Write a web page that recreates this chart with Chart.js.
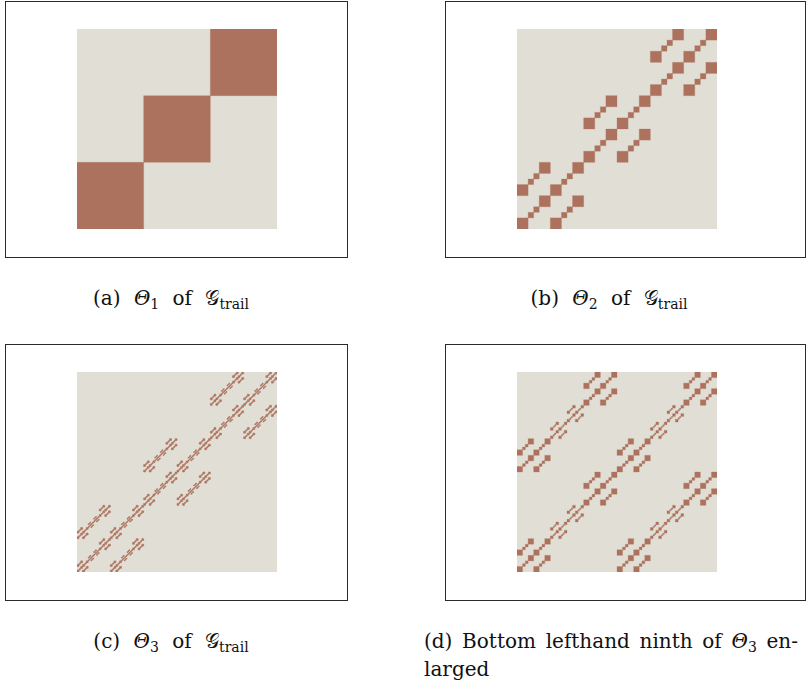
<!DOCTYPE html>
<html>
<head>
<meta charset="utf-8">
<script src="https://cdn.jsdelivr.net/npm/chart.js@4/dist/chart.umd.min.js"></script>
<style>
    body { margin: 0; width: 809px; height: 684px; background: #fff; position: relative; overflow: hidden; }
    .box { position: absolute; border: 1px solid #2b2b2b; }
    .box canvas { display: block; }
    .cap { position: absolute; font-family: "DejaVu Serif", serif; font-size: 20px; line-height: 28px; color: #111; white-space: nowrap; }
    .mid { width: 300px; text-align: center; word-spacing: 7px; }
    .cap sub { font-size: 0.7em; vertical-align: -0.3em; line-height: 0; word-spacing: 0; }
    .cap i { font-style: italic; }
</style>
</head>
<body>
<div class="box" style="left:5px;top:1px;"><canvas id="chartA" width="341" height="255"></canvas></div>
<div class="box" style="left:445px;top:1px;"><canvas id="chartB" width="359" height="255"></canvas></div>
<div class="box" style="left:5px;top:344px;"><canvas id="chartC" width="341" height="255"></canvas></div>
<div class="box" style="left:445px;top:344px;"><canvas id="chartD" width="359" height="255"></canvas></div>

<div class="cap mid" style="left:21px;top:284px;">(a) <i>Θ</i><sub>1</sub> of 𝒢<sub>trail</sub></div>
<div class="cap mid" style="left:459px;top:284px;">(b) <i>Θ</i><sub>2</sub> of 𝒢<sub>trail</sub></div>
<div class="cap mid" style="left:21px;top:627px;">(c) <i>Θ</i><sub>3</sub> of 𝒢<sub>trail</sub></div>
<div class="cap" style="left:424px;top:627px;width:374px;text-align:justify;text-align-last:justify;">(d) Bottom lefthand ninth of <i>Θ</i><sub>3</sub> en-</div>
<div class="cap" style="left:424px;top:655px;">larged</div>

<script>
// Θ_n: three blocks down the diagonal (x, y, side; unit square, origin bottom-left)
const diagonalBlocks = [[0, 0, 1/3], [1/3, 1/3, 1/3], [2/3, 2/3, 1/3]];
// every block is a 2x2 grid of half-size trail pieces
const gridOffsets = [[0, 0], [1/2, 0], [0, 1/2], [1/2, 1/2]];
// one trail piece: big, small, small, big square along its diagonal
const trailSquares = [[0, 0, 1/3], [1/3, 1/3, 1/6], [1/2, 1/2, 1/6], [2/3, 2/3, 1/3]];
// depth of each panel; (d) is the bottom lefthand block of Θ3 blown up
const panelLevels = [1, 2, 3, 3];
const panelIds = ['chartA', 'chartB', 'chartC', 'chartD'];

const fieldColor = '#e1dfd5';
const markColor = '#ad725e';

// block of given depth -> list of filled squares (centre + side)
function block(level, x, y, s, out) {
    if (level === 1) { out.push({ x: x + s / 2, y: y + s / 2, s: s }); return; }
    gridOffsets.forEach(([ox, oy]) => {
        const h = s / 2, px = x + ox * s, py = y + oy * s;
        trailSquares.forEach(([tx, ty, ts]) => block(level - 1, px + tx * h, py + ty * h, ts * h, out));
    });
}

function squaresFor(i) {
    const out = [];
    if (i === 3) { block(panelLevels[i], 0, 0, 1, out); return out; }
    diagonalBlocks.forEach(([x, y, s]) => block(panelLevels[i], x, y, s, out));
    return out;
}

const fieldPlugin = {
    id: 'field',
    beforeDatasetsDraw(chart) {
        const { ctx, chartArea: a } = chart;
        ctx.save();
        ctx.fillStyle = fieldColor;
        ctx.fillRect(a.left, a.top, a.right - a.left, a.bottom - a.top);
        ctx.restore();
    }
};

panelIds.forEach((id, i) => {
    const rightPad = i % 2 === 0 ? 70 : 88;
    new Chart(document.getElementById(id), {
        type: 'scatter',
        data: {
            datasets: [{
                data: squaresFor(i),
                pointStyle: 'rect',
                backgroundColor: markColor,
                borderColor: markColor,
                borderWidth: i === 2 ? 0.6 : 0.3,
                clip: 0,
                pointRadius: ctx => {
                    const sc = ctx.chart.scales.x;
                    return (sc.getPixelForValue(ctx.raw.s) - sc.getPixelForValue(0)) / Math.SQRT2;
                }
            }]
        },
        options: {
            responsive: false,
            animation: false,
            devicePixelRatio: 1,
            events: [],
            layout: { padding: { left: 71, right: rightPad, top: 27, bottom: 28 } },
            scales: {
                x: { type: 'linear', min: 0, max: 1, display: false },
                y: { type: 'linear', min: 0, max: 1, display: false }
            },
            plugins: { legend: { display: false }, tooltip: { enabled: false } }
        },
        plugins: [fieldPlugin]
    });
});
</script>
</body>
</html>
